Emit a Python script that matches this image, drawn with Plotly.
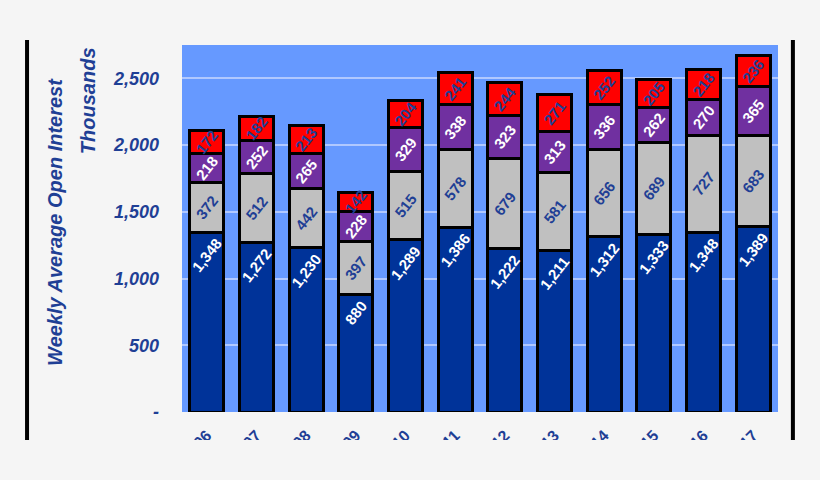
import plotly.graph_objects as go

# Data, thousands of contracts
years = ["2006", "2007", "2008", "2009", "2010", "2011",
         "2012", "2013", "2014", "2015", "2016", "2017"]
navy_vals = [1348, 1272, 1230, 880, 1289, 1386, 1222, 1211, 1312, 1333, 1348, 1389]
grey_vals = [372, 512, 442, 397, 515, 578, 679, 581, 656, 689, 727, 683]
purple_vals = [218, 252, 265, 228, 329, 338, 323, 313, 336, 262, 270, 365]
red_vals = [172, 182, 213, 142, 204, 241, 244, 271, 252, 205, 218, 236]

y_ticks = [0, 500, 1000, 1500, 2000, 2500]
y_tick_text = ["-", "500", "1,000", "1,500", "2,000", "2,500"]

DARK_BLUE = "#1f3f95"
FONT = "Liberation Sans, Arial, sans-serif"
BG = "#f5f5f5"

# (values, fill colour, label colour, label anchor)
series = [
    (navy_vals, "#003399", "white", "end"),
    (grey_vals, "#c0c0c0", DARK_BLUE, "middle"),
    (purple_vals, "#7030a0", "white", "middle"),
    (red_vals, "#ff0000", DARK_BLUE, "middle"),
]

fig = go.Figure()
for vals, color, txt_color, anchor in series:
    fig.add_trace(go.Bar(
        x=years,
        y=vals,
        marker=dict(color=color, line=dict(color="black", width=3)),
        texttemplate="%{y:,.0f}",
        textposition="inside",
        insidetextanchor=anchor,
        constraintext="none",
        textangle=-52,
        textfont=dict(family=FONT, size=15, color=txt_color, weight="bold"),
        cliponaxis=False,
        hoverinfo="skip",
    ))

fig.update_layout(
    barmode="stack",
    bargap=0.31,
    width=820,
    height=480,
    margin=dict(l=182, r=42, t=45, b=68),
    paper_bgcolor=BG,
    plot_bgcolor="#6699ff",
    showlegend=False,
    font=dict(family=FONT, color=DARK_BLUE),
)

fig.update_yaxes(
    range=[0, 2750],
    tickvals=y_ticks,
    ticktext=y_tick_text,
    tickfont=dict(family=FONT, size=18, color=DARK_BLUE, weight="bold", style="italic"),
    ticklabelstandoff=22,
    showgrid=True,
    gridcolor="#b0c8ff",
    gridwidth=2,
    zeroline=False,
    showline=False,
)

fig.update_xaxes(
    tickangle=-45,
    tickfont=dict(family=FONT, size=16, color=DARK_BLUE, weight="bold"),
    showgrid=False,
    showline=False,
    ticklabelstandoff=10,
)

# Axis titles (two separate lines, as in the original slide)
title_font = dict(family=FONT, size=20, color=DARK_BLUE, weight="bold", style="italic")
fig.add_annotation(
    xref="paper", yref="paper", x=-0.2131, y=0.518,
    xanchor="center", yanchor="middle",
    text="Weekly Average Open Interest", textangle=-90, showarrow=False,
    font=title_font,
)
fig.add_annotation(
    xref="paper", yref="paper", x=-0.1577, y=0.847,
    xanchor="center", yanchor="middle",
    text="Thousands", textangle=-90, showarrow=False,
    font=title_font,
)

# Slide frame lines and the cropped bottom edge
for xp in (-0.26, 1.025):
    fig.add_shape(type="line", xref="paper", yref="paper",
                  x0=xp, x1=xp, y0=-0.0763, y1=1.0136,
                  line=dict(color="black", width=4), layer="above")
fig.add_shape(type="rect", xref="paper", yref="paper",
              x0=-0.5, x1=1.5, y0=-0.5, y1=-0.0763,
              fillcolor=BG, line=dict(width=0), layer="above")

fig.write_html(
    "out.html",
    config={"displayModeBar": False},
    post_script="document.body.style.margin='0px';document.body.style.overflow='hidden';",
)
